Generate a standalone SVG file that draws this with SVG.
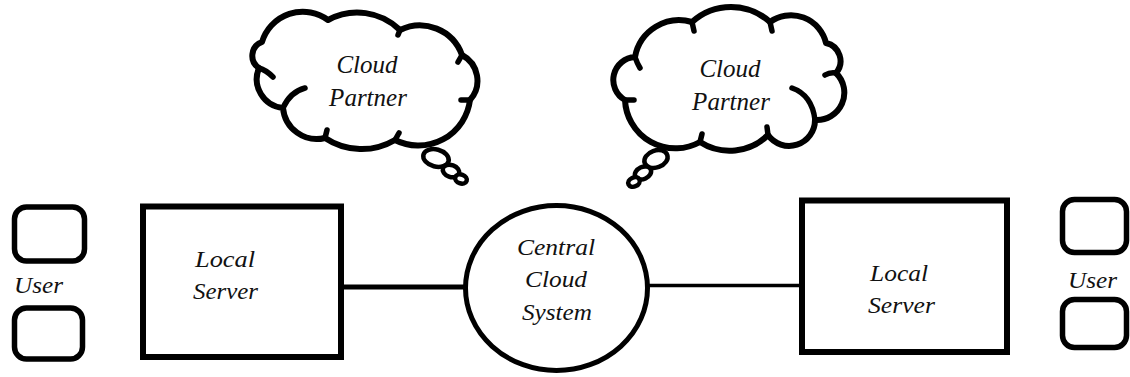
<svg xmlns="http://www.w3.org/2000/svg" width="1130" height="377" viewBox="0 0 1130 377">
  <style>
    .box { fill: #fff; stroke: #000; stroke-width: 6; }
    .user { fill: #fff; stroke: #000; stroke-width: 5.5; }
    .cloud { fill: #fff; stroke: #000; stroke-width: 6; stroke-linejoin: round; stroke-linecap: round; }
    .hook { fill: none; stroke: #000; stroke-width: 5.5; stroke-linecap: round; }
    .bubble { fill: #fff; stroke: #000; stroke-width: 4.5; }
    .wire { stroke: #000; fill: none; }
    text { font-family: "Liberation Serif", "Times New Roman", serif; font-style: italic; fill: #111; }
    .t25 { font-size: 25px; }
    .t24 { font-size: 24px; }
    .t23 { font-size: 23px; }
  </style>

  <rect width="1130" height="377" fill="#fff"/>

  <!-- connectors -->
  <g id="connectors">
    <line class="wire" x1="341" y1="287" x2="466" y2="287" stroke-width="5"/>
    <line class="wire" x1="647" y1="285.5" x2="805" y2="285.5" stroke-width="3.5"/>
  </g>

  <!-- left cloud partner -->
  <g id="cloud-left">
    <path class="cloud" d="M262,42 A42.6,42.6 0 0 1 328,20 A61,61 0 0 1 400,30 A44.8,44.8 0 0 1 462,55 A29,29 0 0 1 470,100 A52,52 0 0 1 395,140 A66,66 0 0 1 325,138 A34,34 0 0 1 283,108 A29,29 0 0 1 259,68 A14.6,14.6 0 0 1 262,42 Z"/>
    <path class="hook" d="M283,108 Q290,92 305,88"/>
    <path class="hook" d="M259,68 Q266,70 273,77"/>
    <path class="hook" d="M325,138 L327,130"/>
    <path class="hook" d="M395,140 L399,133"/>
    <path class="hook" d="M470,100 L461,100"/>
    <path class="hook" d="M462,55 L458,62"/>
    <path class="hook" d="M400,30 L398,35"/>
    <ellipse class="bubble" cx="436" cy="158" rx="13" ry="8.5" transform="rotate(15 436 158)"/>
    <ellipse class="bubble" cx="451" cy="171" rx="8.5" ry="6" transform="rotate(20 451 171)"/>
    <ellipse class="bubble" cx="461" cy="179" rx="6" ry="4.5" transform="rotate(20 461 179)"/>
    <text class="t25" x="367" y="73" text-anchor="middle">Cloud</text>
    <text class="t25" x="368" y="106" text-anchor="middle">Partner</text>
  </g>

  <!-- right cloud partner -->
  <g id="cloud-right">
    <path class="cloud" d="M635,57 A45,45 0 0 1 692,22 A58,58 0 0 1 770,22 A36,36 0 0 1 826,43 A18.4,18.4 0 0 1 836,73 A27.4,27.4 0 0 1 815,120 A25.9,25.9 0 0 1 768,135 A54.8,54.8 0 0 1 700,142 A50.5,50.5 0 0 1 625,100 A23,23 0 0 1 635,57 Z"/>
    <path class="hook" d="M635,57 Q637,63 640,68"/>
    <path class="hook" d="M692,22 L694,31"/>
    <path class="hook" d="M770,22 L772,31"/>
    <path class="hook" d="M836,73 Q830,72 825,75"/>
    <path class="hook" d="M815,120 Q812,95 792,88"/>
    <path class="hook" d="M768,135 L767,127"/>
    <path class="hook" d="M700,142 L702,134"/>
    <path class="hook" d="M625,100 L634,100"/>
    <ellipse class="bubble" cx="656" cy="159" rx="12" ry="8.5" transform="rotate(-20 656 159)"/>
    <ellipse class="bubble" cx="643" cy="173" rx="8.5" ry="6" transform="rotate(-25 643 173)"/>
    <ellipse class="bubble" cx="634" cy="182" rx="6" ry="4.5" transform="rotate(-25 634 182)"/>
    <text class="t25" x="730" y="77" text-anchor="middle">Cloud</text>
    <text class="t25" x="731" y="110" text-anchor="middle">Partner</text>
  </g>

  <!-- left user terminals -->
  <g id="user-left">
    <rect class="user" x="14.5" y="207" width="70" height="54" rx="12"/>
    <rect class="user" x="14.5" y="308" width="68" height="51" rx="12"/>
    <text class="t23" x="14" y="293" textLength="49" lengthAdjust="spacingAndGlyphs">User</text>
  </g>

  <!-- left local server -->
  <g id="server-left">
    <rect class="box" x="143" y="206.5" width="198" height="150.5"/>
    <text class="t24" x="195" y="267" textLength="60" lengthAdjust="spacingAndGlyphs">Local</text>
    <text class="t24" x="193" y="299" textLength="65" lengthAdjust="spacingAndGlyphs">Server</text>
  </g>

  <!-- central cloud system -->
  <g id="central">
    <ellipse cx="556.5" cy="288" rx="91" ry="82.5" fill="#fff" stroke="#000" stroke-width="5"/>
    <text class="t24" x="517" y="255" textLength="78" lengthAdjust="spacingAndGlyphs">Central</text>
    <text class="t24" x="525" y="287" textLength="62" lengthAdjust="spacingAndGlyphs">Cloud</text>
    <text class="t24" x="522" y="320" textLength="70" lengthAdjust="spacingAndGlyphs">System</text>
  </g>

  <!-- right local server -->
  <g id="server-right">
    <rect class="box" x="802" y="200.5" width="205" height="151.5"/>
    <text class="t24" x="870" y="281" textLength="58" lengthAdjust="spacingAndGlyphs">Local</text>
    <text class="t24" x="868" y="313" textLength="67" lengthAdjust="spacingAndGlyphs">Server</text>
  </g>

  <!-- right user terminals -->
  <g id="user-right">
    <rect class="user" x="1062.5" y="199.5" width="64" height="53" rx="12"/>
    <rect class="user" x="1062.5" y="299.5" width="64" height="48" rx="12"/>
    <text class="t23" x="1068" y="288" textLength="49" lengthAdjust="spacingAndGlyphs">User</text>
  </g>
</svg>
